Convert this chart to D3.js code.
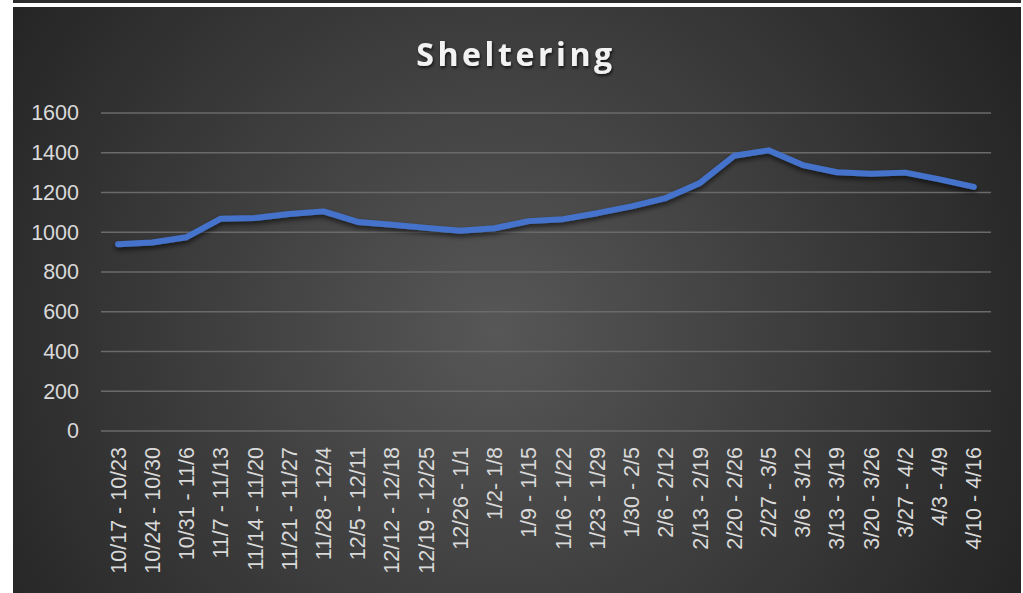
<!DOCTYPE html>
<html>
<head>
<meta charset="utf-8">
<script src="https://cdn.jsdelivr.net/npm/d3@7"></script>
<style>
  html, body { margin: 0; padding: 0; background: #fff; }
  svg { display: block; }
</style>
</head>
<body>
<div id="chart"></div>
<script>
// weekly ranges (x categories)
const weeks = [
  "10/17 - 10/23", "10/24 - 10/30", "10/31 - 11/6", "11/7 - 11/13",
  "11/14 - 11/20", "11/21 - 11/27", "11/28 - 12/4", "12/5 - 12/11",
  "12/12 - 12/18", "12/19 - 12/25", "12/26 - 1/1", "1/2- 1/8",
  "1/9 - 1/15", "1/16 - 1/22", "1/23 - 1/29", "1/30 - 2/5",
  "2/6 - 2/12", "2/13 - 2/19", "2/20 - 2/26", "2/27 - 3/5",
  "3/6 - 3/12", "3/13 - 3/19", "3/20 - 3/26", "3/27 - 4/2",
  "4/3 - 4/9", "4/10 - 4/16"
];

// sheltering counts
const sheltering = [
  940, 948, 975, 1068, 1072, 1092, 1105, 1052,
  1038, 1022, 1008, 1020, 1056, 1066, 1096, 1130,
  1172, 1248, 1385, 1412, 1338, 1302, 1294, 1300,
  1266, 1228
];

const yTicks = [0, 200, 400, 600, 800, 1000, 1200, 1400, 1600];

const W = 1023, H = 593;
const panel = { x: 13, y: 7, w: 1008, h: 586 };
const plot = { left: 101, right: 991, top: 113, bottom: 431 };

const svg = d3.select('#chart').append('svg')
  .attr('width', W)
  .attr('height', H);

const defs = svg.append('defs');

const grad = defs.append('radialGradient')
  .attr('id', 'bg')
  .attr('gradientUnits', 'userSpaceOnUse')
  .attr('cx', panel.x + panel.w * 0.48)
  .attr('cy', panel.y + panel.h * 0.55)
  .attr('r', 600);
grad.append('stop').attr('offset', '0%').attr('stop-color', '#575757');
grad.append('stop').attr('offset', '100%').attr('stop-color', '#232323');

const shadow = defs.append('filter')
  .attr('id', 'lineShadow')
  .attr('x', '-5%').attr('y', '-20%')
  .attr('width', '110%').attr('height', '140%');
shadow.append('feDropShadow')
  .attr('dx', 0).attr('dy', 3)
  .attr('stdDeviation', 2.5)
  .attr('flood-color', '#000')
  .attr('flood-opacity', 0.6);

const titleShadow = defs.append('filter').attr('id', 'titleShadow');
titleShadow.append('feDropShadow')
  .attr('dx', 1).attr('dy', 2)
  .attr('stdDeviation', 1.5)
  .attr('flood-color', '#000')
  .attr('flood-opacity', 0.7);

// top strip + panel
svg.append('rect')
  .attr('x', panel.x).attr('y', 0)
  .attr('width', panel.w).attr('height', 3)
  .attr('fill', '#2e2e2e');

svg.append('rect')
  .attr('x', panel.x).attr('y', panel.y)
  .attr('width', panel.w).attr('height', panel.h)
  .attr('fill', 'url(#bg)');

// title
svg.append('text')
  .attr('x', 516)
  .attr('y', 66)
  .attr('text-anchor', 'middle')
  .attr('fill', '#f2f2f2')
  .attr('font-family', 'Open Sans, sans-serif')
  .attr('font-weight', 'bold')
  .attr('font-size', 32)
  .attr('letter-spacing', 3.6)
  .attr('filter', 'url(#titleShadow)')
  .text('Sheltering');

// scales
const x = d3.scaleBand()
  .domain(weeks)
  .range([plot.left, plot.right]);

const y = d3.scaleLinear()
  .domain([0, 1600])
  .range([plot.bottom, plot.top]);

// gridlines
svg.append('g')
  .selectAll('line')
  .data(yTicks)
  .join('line')
    .attr('x1', plot.left)
    .attr('x2', plot.right)
    .attr('y1', d => y(d))
    .attr('y2', d => y(d))
    .attr('stroke', '#6a6a6a')
    .attr('stroke-width', 1.3);

// y axis labels
const yAxis = svg.append('g')
  .attr('transform', `translate(${plot.left},0)`)
  .call(d3.axisLeft(y).tickValues(yTicks).tickFormat(d3.format('d')).tickSize(0).tickPadding(22));
yAxis.select('.domain').remove();
yAxis.selectAll('text')
  .attr('fill', '#d9d9d9')
  .attr('font-family', 'Liberation Sans, Arial, sans-serif')
  .attr('font-size', 21.5);

// x axis labels (rotated)
const xAxis = svg.append('g')
  .attr('transform', `translate(0,${plot.bottom})`)
  .call(d3.axisBottom(x).tickSize(0).tickPadding(0));
xAxis.select('.domain').remove();
xAxis.selectAll('text')
  .attr('fill', '#d9d9d9')
  .attr('font-family', 'Liberation Sans, Arial, sans-serif')
  .attr('font-size', 21.5)
  .attr('text-anchor', 'end')
  .attr('transform', 'rotate(-90)')
  .attr('x', -16)
  .attr('y', 0)
  .attr('dy', '0.35em');

// line
const line = d3.line()
  .x((d, i) => x(weeks[i]) + x.bandwidth() / 2)
  .y(d => y(d));

svg.append('path')
  .datum(sheltering)
  .attr('d', line)
  .attr('fill', 'none')
  .attr('stroke', '#4473cc')
  .attr('stroke-width', 6)
  .attr('stroke-linejoin', 'round')
  .attr('stroke-linecap', 'round')
  .attr('filter', 'url(#lineShadow)');
</script>
</body>
</html>
